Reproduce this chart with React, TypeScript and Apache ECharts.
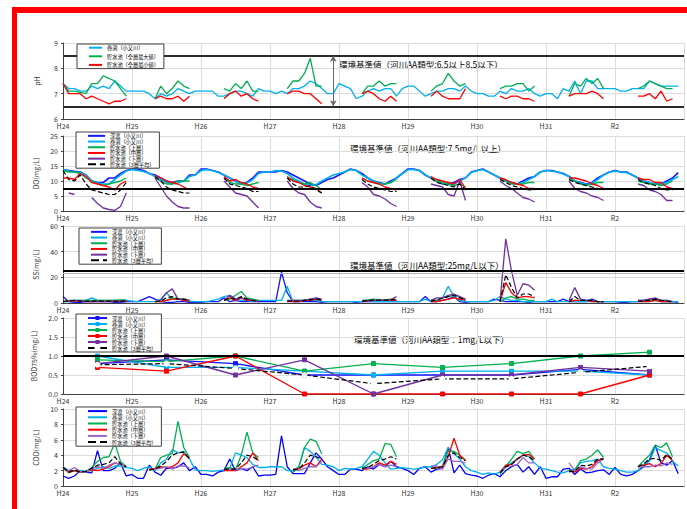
import React, { useEffect, useRef } from 'react';
import * as echarts from 'echarts';

const FONT = '"Noto Sans CJK JP", "Noto Sans", sans-serif';

const yearLabels = ['H24', 'H25', 'H26', 'H27', 'H28', 'H29', 'H30', 'H31', 'R2'];

const N_FUKA = '深渡（小又川）';
const N_MAKI = '巻渕（小又川）';
const N_MAX = '貯水池（全層最大値）';
const N_MIN = '貯水池（全層最小値）';
const N_UP = '貯水池（上層）';
const N_MID = '貯水池（中層）';
const N_LOW = '貯水池（下層）';
const N_AVG = '貯水池（3層平均）';

// ---------- pH ----------
const phMaki = [
  7.4, 7.2, 7.2, 7.1, 7.1, 7.3, 7.2, 7.3, 7.2, 7.5, 7.3, 7.1,
  7.1, 7.1, 7.1, 7.0, 6.8, 7.0, 6.9, 7.0, 7.2, 7.1, 7.0, 7.1,
  7.1, 7.1, 7.1, 6.9, 6.9, 7.0, 7.1, 7.1, 7.0, 6.9, 7.2, 7.1,
  7.1, 7.0, 7.1, 7.0, 7.2, 7.2, 7.3, 7.5, 7.4, 7.2, 7.0, 7.0,
  7.4, 7.3, 7.2, 6.8, 6.9, 7.1, 7.2, 7.1, 7.2, 7.2, 6.9, 7.2,
  7.3, 7.3, 7.1, 6.9, 7.0, 7.1, 7.1, 7.2, 7.2, 7.1, 7.3, 7.1,
  7.0, 7.0, 6.9, 6.9, 7.1, 7.0, 7.2, 7.1, 7.1, 7.2, 7.0, 6.9,
  7.0, 7.0, 6.8, 7.2, 7.1, 7.5, 7.0, 7.5, 7.5, 7.2, 7.2, 7.2,
  7.2, 7.1, 7.1, 7.2, 7.2, 7.2, 7.5, 7.4, 7.3, 7.3, 7.3, 7.3,
];
const phMax: [number, number[]][] = [
  [0, [7.4, 7.1, 7.1, 7.05, 7.0, 7.4, 7.4, 7.7, 7.6, 7.5, 7.2, 6.9]],
  [16, [6.8, 7.3, 7.0, 7.2, 7.5, 7.3, 7.2]],
  [28, [7.2, 7.1, 7.4, 7.2, 7.5, 7.1, 7.1]],
  [39, [7.2, 7.5, 7.5, 7.8, 8.4, 7.3, 7.3]],
  [52, [7.0, 7.3, 7.3, 7.5, 7.3, 7.4, 7.4]],
  [64, [7.1, 7.3, 7.4, 7.8, 7.5, 7.3, 7.4]],
  [76, [7.2, 7.3, 7.3, 7.4, 7.4, 7.1, 7.3]],
  [88, [6.9, 7.4, 7.3, 7.6, 7.4, 7.6, 7.2]],
  [100, [7.2, 7.3, 7.5, 7.4, 7.3, 7.2, 7.2]],
];
const phMin: [number, number[]][] = [
  [0, [7.4, 7.0, 7.0, 7.0, 6.8, 6.9, 6.8, 6.7, 6.6, 6.7, 6.7, 6.8]],
  [16, [6.8, 6.9, 6.8, 6.8, 6.9, 6.7, 6.9]],
  [28, [6.8, 7.0, 7.1, 6.9, 7.0, 6.8, 6.7]],
  [39, [7.0, 7.1, 7.1, 7.0, 7.0, 6.8, 6.6]],
  [52, [7.0, 7.1, 7.0, 6.8, 6.7, 6.9, 6.7]],
  [64, [6.9, 7.1, 6.9, 6.8, 6.8, 6.8, 7.2]],
  [76, [6.9, 6.8, 6.9, 6.9, 6.8, 6.8, 6.7]],
  [88, [6.9, 7.0, 7.0, 7.0, 7.1, 7.0, 6.8]],
  [100, [6.9, 6.9, 7.0, 6.8, 7.1, 6.7, 6.8]],
];
const phStd = [8.5, 6.5];
const phArrowMonth = 47;

// ---------- DO ----------
const doFuka = [
  13.8, 13.5, 13.2, 13.0, 12.0, 10.0, 9.5, 9.5, 11.0, 11.0, 12.5, 13.5,
  14.0, 14.0, 13.5, 12.5, 12.0, 11.0, 10.0, 9.5, 10.0, 10.0, 12.0, 12.0,
  14.0, 14.0, 13.5, 13.0, 12.0, 11.0, 10.0, 9.0, 9.5, 11.0, 13.0, 13.0,
  13.0, 13.0, 13.5, 13.0, 12.0, 11.0, 10.0, 9.0, 8.5, 9.5, 10.5, 11.0,
  12.0, 13.0, 14.0, 13.5, 12.5, 11.0, 10.0, 9.5, 9.0, 10.0, 11.0, 12.5,
  14.0, 14.0, 13.5, 12.0, 11.0, 10.0, 9.0, 9.0, 9.5, 10.5, 11.0, 13.0,
  13.5, 14.0, 13.0, 12.0, 11.0, 10.0, 9.5, 9.0, 10.0, 11.0, 11.5, 13.0,
  13.5, 13.5, 13.0, 12.5, 11.5, 10.0, 9.5, 9.0, 9.5, 11.0, 12.0, 13.0,
  13.5, 13.0, 13.0, 12.0, 11.0, 10.0, 9.5, 9.0, 9.0, 10.0, 11.0, 12.8,
];
const doMaki = [
  13.8, 13.3, 13.0, 12.8, 12.0, 10.0, 9.3, 9.0, 9.0, 10.5, 12.0, 13.3,
  13.8, 13.5, 13.2, 12.5, 11.5, 10.5, 9.5, 9.0, 9.3, 10.0, 11.5, 12.0,
  13.5, 13.8, 13.5, 12.8, 12.0, 11.0, 9.8, 9.0, 9.3, 10.5, 12.5, 13.0,
  13.0, 13.5, 13.3, 12.5, 11.0, 10.0, 9.0, 8.5, 8.8, 10.0, 11.0, 12.0,
  12.5, 13.0, 13.8, 13.5, 12.0, 11.0, 10.0, 9.3, 9.0, 9.5, 11.0, 12.5,
  13.8, 13.8, 13.5, 12.0, 11.0, 10.0, 9.0, 8.8, 9.0, 10.0, 11.0, 12.8,
  13.5, 13.8, 13.0, 12.0, 11.0, 10.0, 9.3, 9.0, 9.5, 10.5, 11.5, 13.0,
  13.5, 13.3, 13.0, 12.3, 11.5, 10.0, 9.3, 8.8, 9.3, 10.5, 12.0, 13.0,
  13.3, 13.0, 12.8, 12.0, 11.0, 10.0, 9.5, 9.0, 9.0, 9.5, 10.5, 11.5,
];
const doUp: [number, number[]][] = [
  [0, [13.5, 13.0, 13.0, 12.5, 11.0, 10.0, 9.0, 8.5, 9.0, 9.5, 10.0, 11.0]],
  [16, [11.0, 10.0, 9.0, 9.0, 10.0, 10.0, 10.0]],
  [28, [11.0, 9.5, 9.0, 9.0, 8.5, 9.0, 9.5]],
  [39, [11.0, 10.5, 9.5, 9.0, 9.5, 8.5, 7.0]],
  [52, [11.0, 10.0, 9.5, 9.0, 9.0, 9.5, 10.5]],
  [64, [11.0, 10.0, 9.5, 9.0, 8.5, 9.0, 8.0]],
  [76, [11.0, 10.0, 9.0, 9.0, 9.0, 9.5, 9.5]],
  [88, [10.5, 10.0, 9.0, 8.5, 9.0, 9.5, 9.5]],
  [100, [10.0, 9.5, 9.0, 9.0, 8.5, 9.0, 10.0]],
];
const doMid: [number, number[]][] = [
  [0, [11.0, 11.0, 10.5, 12.5, 11.5, 9.5, 9.0, 8.5, 8.0, 7.0, 9.0, 10.0]],
  [16, [12.0, 11.0, 10.0, 9.5, 9.0, 8.0, 7.0]],
  [28, [11.5, 10.0, 10.5, 9.5, 9.0, 8.0, 7.5]],
  [39, [11.5, 10.0, 9.5, 8.5, 8.0, 7.5, 6.0]],
  [52, [11.0, 10.0, 9.5, 9.0, 8.0, 7.5, 7.0]],
  [64, [11.5, 10.5, 10.0, 9.5, 9.0, 10.5, 7.5]],
  [76, [11.0, 10.5, 9.5, 9.0, 8.5, 7.5, 7.5]],
  [88, [11.0, 11.0, 10.5, 10.0, 9.0, 8.5, 7.5]],
  [100, [11.0, 10.5, 10.5, 9.5, 9.5, 8.0, 7.5]],
];
const doLow: [number, number[]][] = [
  [1, [6.0, 5.5]],
  [5, [4.5, 2.5, 1.0, 0.5, 0.2, 1.5, 6.0]],
  [16, [11.0, 8.0, 5.0, 3.0, 1.5, 1.0, 1.0]],
  [28, [10.0, 8.0, 6.0, 5.5, 5.0, 3.0, 1.0]],
  [39, [10.0, 7.5, 6.0, 5.5, 3.0, 1.5, 1.0]],
  [52, [9.5, 8.0, 5.5, 5.0, 4.0, 2.5, 1.5]],
  [64, [9.0, 8.5, 8.0, 5.5, 5.0, 10.0, 3.5]],
  [76, [10.0, 8.5, 7.5, 6.0, 4.5, 4.0, 3.0]],
  [88, [10.0, 7.5, 6.5, 6.0, 5.0, 4.5, 3.5]],
  [100, [9.0, 8.5, 7.0, 6.5, 5.5, 3.5, 3.5]],
];
const doAvg: [number, number[]][] = [
  [0, [13.5, 10.5, 10.0, 12.0, 9.0, 7.0, 6.5, 6.0, 5.5, 5.5, 7.0, 9.5]],
  [16, [11.5, 10.0, 8.0, 7.0, 6.5, 6.0, 6.0]],
  [28, [11.0, 9.0, 8.5, 8.0, 7.5, 6.5, 6.5]],
  [39, [11.0, 9.0, 8.0, 8.0, 8.5, 7.0, 6.0]],
  [52, [10.5, 9.0, 8.0, 7.5, 7.0, 6.5, 6.5]],
  [64, [11.0, 9.5, 9.0, 8.5, 8.0, 9.0, 7.0]],
  [76, [10.5, 9.5, 8.5, 8.0, 7.5, 7.0, 7.0]],
  [88, [10.5, 9.5, 9.0, 8.5, 8.0, 7.5, 7.0]],
  [100, [10.5, 9.5, 9.0, 8.5, 7.5, 7.0, 7.0]],
];
const doStd = [7.5];

// ---------- SS ----------
const ssFuka = [
  5, 1, 0.5, 0.5, 1, 1, 1, 1, 1, 0.5, 0.5, 1,
  1, 1, 3, 5, 3, 1, 0.5, 0.5, 1, 1, 0.5, 0.5,
  0.5, 1, 1, 1, 4, 1, 2, 1, 1, 1, 1, 1,
  1, 1, 24, 8, 1, 1, 1, 1, 1, 0.5, 1, 1,
  1, 1, 1, 0.5, 1, 1, 1, 1, 1, 1, 1, 1,
  1, 1, 1, 5, 1, 1, 2, 3, 5, 1, 0.5, 1,
  1, 1, 1, 3, 2, 1, 1, 1, 1, 0.5, 1, 1,
  1, 1, 1, 3, 1, 1, 1, 1, 3, 1, 1, 1,
  1, 0.5, 0.5, 1, 1, 2, 3, 3, 1, 1, 1, 0.5,
];
const ssMaki = [
  1, 1, 2, 2, 2, 4, 2, 2, 2, 2, 2, 2,
  1.5, 1, 1, 1, 1, 3, 8, 3, 3, 2, 1.5, 1,
  1, 1, 2, 3, 5, 6, 3, 2, 2, 1, 2, 2,
  2, 2, 2, 13, 1, 1, 2, 2, 2, 1, 1, 1,
  1, 1, 1, 1, 1, 1, 1, 1, 1, 1, 1, 1,
  1, 1, 1, 3, 1, 2, 4, 13, 5, 2, 1, 1,
  1, 1, 1, 2, 5, 3, 2, 2, 1, 1, 1, 1,
  1, 3, 1, 1, 1, 1, 1, 1, 1, 1, 1, 1,
  1, 1, 1, 1, 1, 1, 1, 2, 1, 1, 1, 1,
];
const ssUp: [number, number[]][] = [
  [0, [1, 2, 2, 2, 2, 2, 2, 2, 2, 2, 2.5, 2.5]],
  [16, [1, 1, 2, 4, 3, 3, 2]],
  [28, [2, 3, 6, 9, 4, 3, 2]],
  [39, [1, 2, 2, 2, 3, 3, 2]],
  [52, [2, 2.5, 3, 2.5, 2.5, 3, 2]],
  [64, [2, 2, 4, 5, 6, 5, 2]],
  [76, [1, 4, 5, 3, 3, 2, 2]],
  [88, [1, 2, 2, 2, 2, 1, 1]],
  [100, [2, 2, 2, 3, 2, 2, 1]],
];
const ssMid: [number, number[]][] = [
  [0, [1, 1.5, 1.5, 1.5, 1, 1, 1, 1, 1.5, 1.5, 1.5, 1.5]],
  [16, [1, 1, 2, 3, 3, 2, 1]],
  [28, [2, 4, 2, 4, 2, 2, 1]],
  [39, [1, 1, 1, 2, 2, 3, 2]],
  [52, [1, 1.5, 2, 2, 2, 2, 2]],
  [64, [1, 1, 2, 3, 4, 3, 2]],
  [76, [1, 16, 8, 4, 5, 5, 4]],
  [88, [1, 2, 2, 2, 1, 1, 1]],
  [100, [1, 1, 1, 2, 1, 1, 1]],
];
const ssLow: [number, number[]][] = [
  [0, [1, 1.5, 2, 1.5, 1, 1, 1.5, 1, 1, 1, 1, 1]],
  [16, [1, 2, 8, 11, 3, 3, 2]],
  [28, [2, 6, 3, 4, 3, 2, 1]],
  [39, [2, 2, 2, 2, 3, 4, 3]],
  [52, [1, 2, 2, 2, 2, 2.5, 5]],
  [64, [2, 4, 4, 6, 7, 5, 3]],
  [76, [1, 50, 25, 6, 15, 14, 10]],
  [88, [2, 12, 3, 2, 2, 1, 1]],
  [100, [2, 2, 3, 4, 2, 2, 1]],
];
const ssAvg: [number, number[]][] = [
  [0, [1, 1.5, 2, 1.5, 1.5, 1.5, 1.5, 1.5, 1.5, 1.5, 1.5, 1.5]],
  [16, [1, 1.5, 4, 5, 3, 3, 2]],
  [28, [2, 4, 3, 5, 3, 2, 1]],
  [39, [1.5, 1.5, 1.5, 2, 2.5, 3, 2.5]],
  [52, [1.5, 2, 2.3, 2.2, 2.2, 2.5, 3]],
  [64, [1.5, 2.5, 3.5, 5, 6, 4, 2.5]],
  [76, [1, 22, 12, 4, 7, 7, 5]],
  [88, [1, 5, 2, 2, 2, 1, 1]],
  [100, [1.5, 1.5, 2, 3, 2, 1.5, 1]],
];
const ssStd = [25];
const ssGuide = [23.5];

// ---------- BOD75% (annual, plotted mid-year) ----------
const bodFuka = [0.8, 0.9, 0.8, 0.5, 0.5, 0.5, 0.5, 0.65, 0.5];
const bodMaki = [1.0, 0.7, 0.7, 0.6, 0.5, 0.6, 0.6, 0.6, 0.5];
const bodUp = [0.9, 0.85, 1.0, 0.6, 0.8, 0.7, 0.8, 1.0, 1.1];
const bodMid = [0.7, 0.6, 1.0, 0.0, 0.0, 0.0, 0.0, 0.0, 0.5];
const bodLow = [0.8, 1.0, 0.5, 0.9, 0.0, 0.5, 0.5, 0.7, 0.6];
const bodAvg = [0.77, 0.8, 0.67, 0.5, 0.27, 0.4, 0.4, 0.57, 0.73];
const bodStd = [1.0];

// ---------- COD ----------
const codFuka = [
  1.3, 1.0, 1.3, 2.0, 1.8, 1.7, 4.6, 2.0, 2.0, 2.3, 3.0, 1.3,
  1.5, 1.0, 1.0, 2.7, 1.8, 1.4, 2.3, 2.3, 2.5, 3.0, 2.0, 2.5,
  1.5, 1.5, 1.3, 1.8, 2.0, 3.5, 2.0, 2.3, 2.0, 2.5, 1.3, 1.4,
  1.4, 1.5, 6.5, 2.5, 1.6, 1.6, 1.6, 3.0, 4.3, 3.5, 2.5, 2.0,
  1.5, 1.5, 2.2, 2.2, 2.0, 2.5, 2.2, 2.8, 2.5, 3.2, 2.5, 2.3,
  2.0, 1.5, 2.3, 2.5, 1.8, 2.2, 2.3, 5.0, 1.7, 2.7, 1.6, 1.4,
  1.3, 1.0, 1.4, 1.6, 1.2, 2.0, 2.5, 2.8, 1.8, 2.5, 1.5, 2.5,
  1.0, 1.2, 1.2, 2.2, 2.3, 1.5, 2.2, 1.7, 1.8, 2.0, 2.1, 1.5,
  2.4, 1.5, 1.3, 1.5, 2.0, 2.5, 3.4, 5.3, 3.0, 2.7, 3.3, 1.6,
];
const codMaki = [
  2.5, 2.0, 2.0, 2.0, 1.9, 2.0, 2.3, 2.5, 2.3, 2.6, 2.6, 2.4,
  2.3, 2.0, 2.3, 2.5, 2.0, 3.0, 3.5, 4.7, 4.3, 4.5, 3.5, 2.1,
  2.0, 2.0, 1.9, 2.0, 2.1, 2.3, 4.3, 4.0, 3.7, 2.8, 2.4, 2.4,
  2.5, 2.5, 2.5, 2.0, 2.0, 2.5, 5.0, 4.5, 3.8, 2.8, 2.7, 2.5,
  2.0, 2.3, 2.2, 2.3, 2.5, 3.5, 4.5, 4.0, 3.0, 2.2, 2.3, 2.4,
  2.3, 2.2, 2.3, 2.5, 2.5, 2.8, 3.4, 5.0, 4.2, 3.5, 2.5, 2.0,
  1.8, 1.5, 1.7, 1.5, 1.8, 2.5, 3.0, 3.5, 4.0, 3.8, 3.0, 2.3,
  2.2, 2.0, 1.8, 1.7, 2.0, 2.2, 3.0, 3.2, 3.3, 3.5, 2.5, 2.3,
  2.2, 2.0, 1.8, 1.8, 2.0, 2.8, 3.2, 5.0, 4.6, 4.3, 3.2, 2.6,
];
const codUp: [number, number[]][] = [
  [0, [2.5, 1.7, 2.0, 1.8, 1.9, 2.4, 3.2, 3.7, 3.8, 5.6, 3.2, 2.5]],
  [15, [2.1, 2.2, 3.7, 4.0, 4.2, 8.4, 5.0, 3.7]],
  [28, [2.3, 2.4, 2.1, 4.0, 7.0, 4.3, 3.7]],
  [40, [1.8, 2.4, 5.0, 6.1, 5.8, 4.2]],
  [52, [2.3, 2.8, 3.3, 3.5, 5.5, 5.4, 3.8]],
  [64, [2.3, 2.3, 2.6, 4.6, 4.5, 4.0, 3.3]],
  [76, [1.5, 2.5, 3.5, 4.5, 4.2, 4.5, 3.5]],
  [88, [1.8, 2.0, 3.3, 3.5, 4.0, 4.7, 3.7]],
  [100, [2.5, 3.3, 4.0, 5.3, 5.0, 5.6, 3.8]],
];
const codMid: [number, number[]][] = [
  [0, [2.4, 1.8, 2.0, 1.8, 1.9, 2.1, 2.0, 2.2, 2.5, 3.0, 2.8, 2.5]],
  [15, [2.2, 2.3, 2.5, 2.4, 2.5, 3.0, 4.2, 3.6]],
  [28, [2.0, 2.0, 2.0, 2.5, 3.0, 4.3, 3.3]],
  [40, [2.2, 2.2, 2.7, 3.0, 2.5, 3.5]],
  [52, [2.2, 2.2, 2.5, 3.0, 2.7, 3.2, 2.8]],
  [64, [2.3, 2.4, 2.5, 3.8, 6.2, 4.0, 3.3]],
  [76, [1.8, 2.7, 2.8, 3.5, 4.0, 4.1, 3.5]],
  [88, [2.0, 1.8, 2.3, 2.2, 2.5, 3.3, 3.6]],
  [100, [2.5, 2.7, 2.9, 2.5, 2.9, 4.0, 3.3]],
];
const codLow: [number, number[]][] = [
  [0, [2.3, 2.0, 2.4, 1.9, 1.8, 2.3, 2.5, 2.3, 2.7, 3.0, 2.8, 2.5]],
  [15, [2.1, 2.2, 2.3, 2.5, 2.2, 2.6, 2.6, 2.4]],
  [28, [2.2, 2.2, 2.1, 2.3, 2.2, 2.5, 2.7]],
  [40, [2.2, 2.0, 2.3, 2.5, 2.5, 3.2]],
  [52, [2.2, 2.3, 2.5, 2.8, 2.5, 2.7, 2.5]],
  [64, [2.6, 2.6, 2.2, 3.5, 3.2, 3.2, 3.0]],
  [76, [1.8, 2.5, 2.6, 2.8, 3.7, 3.0, 3.0]],
  [88, [3.0, 2.0, 2.5, 2.3, 2.2, 3.0, 3.5]],
  [100, [2.5, 2.5, 2.5, 2.7, 2.6, 3.0, 2.8]],
];
const codAvg: [number, number[]][] = [
  [0, [2.4, 1.8, 2.1, 1.8, 1.9, 2.3, 2.7, 2.8, 3.0, 3.8, 2.9, 2.5]],
  [15, [2.1, 2.2, 2.6, 3.2, 4.0, 4.3, 4.4, 3.5]],
  [28, [2.2, 2.2, 2.2, 3.0, 4.0, 3.8, 3.3]],
  [40, [2.1, 2.2, 3.0, 4.0, 3.8, 3.5]],
  [52, [2.3, 2.4, 2.8, 3.3, 3.5, 3.8, 3.5]],
  [64, [2.3, 2.4, 2.5, 4.0, 4.3, 3.7, 3.3]],
  [76, [1.7, 2.5, 2.8, 3.5, 4.0, 3.8, 3.3]],
  [88, [1.9, 1.9, 2.7, 2.6, 2.8, 3.5, 3.5]],
  [100, [2.5, 2.9, 3.5, 3.6, 3.3, 4.1, 3.5]],
];

// ---------- helpers ----------
const C_FUKA = '#1414ff';
const C_MAKI = '#00b0f0';
const C_UP = '#00b050';
const C_MID = '#ff0000';
const C_LOW = '#7030a0';
const C_AVG = '#000000';

const monthly = (arr: number[]) => arr.map((v, i) => [i, v]);
const segs = (list: [number, number[]][]) => {
  const out: any[] = [];
  list.forEach(([s, vals]) => {
    vals.forEach((v, i) => out.push([s + i, v]));
    out.push([s + vals.length, '-']);
  });
  return out;
};
const annual = (arr: number[]) => arr.map((v, i) => [i * 12 + 6, v]);

function line(key: string, name: string, color: string, gi: number, data: any[], extra: any = {}) {
  return {
    type: 'line',
    name: key + '|' + name,
    xAxisIndex: gi,
    yAxisIndex: gi,
    data,
    symbol: 'none',
    showSymbol: false,
    connectNulls: false,
    lineStyle: { color, width: extra.width ?? 1.3, type: extra.dash ? 'dashed' : 'solid' },
    itemStyle: { color },
    z: extra.z ?? 2,
    ...(extra.more || {}),
  };
}

function stdLine(values: number[], color = '#000', width = 2) {
  return {
    silent: true,
    symbol: 'none',
    label: { show: false },
    lineStyle: { color, width, type: 'solid' },
    data: values.map((v) => ({ yAxis: v })),
  };
}

function legend(
  key: string,
  names: string[],
  left: number,
  top: number,
  itemWidth: number,
  lh: number,
  gap: number,
  showSym = false,
) {
  return {
    orient: 'vertical',
    left,
    top,
    data: names.map((n) => key + '|' + n),
    formatter: (n: string) => n.split('|')[1],
    itemWidth,
    itemHeight: 5,
    itemGap: gap,
    padding: [1, 5, 1, 11],
    borderColor: '#404040',
    borderWidth: 1,
    borderRadius: 0,
    backgroundColor: '#ffffff',
    selectedMode: false,
    lineStyle: { width: 2 },
    itemStyle: showSym ? {} : { opacity: 0 },
    textStyle: { fontSize: 5.2, lineHeight: lh, fontFamily: FONT, color: '#000', padding: 0 },
    z: 10,
  };
}

const grids = [
  { top: 43, height: 76 },
  { top: 136, height: 75 },
  { top: 226, height: 77 },
  { top: 318, height: 76 },
  { top: 409, height: 77 },
];

const yDefs = [
  { name: 'pH', min: 6, max: 9, interval: 1, fmt: (v: number) => String(v) },
  { name: 'DO(mg/L)', min: 0, max: 25, interval: 5, fmt: (v: number) => String(v) },
  { name: 'SS(mg/L)', min: 0, max: 60, interval: 20, fmt: (v: number) => String(v) },
  { name: 'BOD75%(mg/L)', min: 0, max: 2, interval: 0.5, fmt: (v: number) => v.toFixed(1) },
  { name: 'COD(mg/L)', min: 0, max: 10, interval: 2, fmt: (v: number) => String(v) },
];

export default function App() {
  const ref = useRef<HTMLDivElement>(null);
  useEffect(() => {
    if (!ref.current) return;
    const chart = echarts.init(ref.current, undefined, { renderer: 'svg' });

    const bodSym = (color: string) => ({
      symbol: 'rect',
      showSymbol: true,
      symbolSize: 4,
      itemStyle: { color, borderColor: color },
    });

    const series: any[] = [
      // pH
      line('ph', N_MAKI, C_MAKI, 0, monthly(phMaki), { more: { markLine: stdLine(phStd, '#2a2a2a', 2.2) } }),
      line('ph', N_MAX, C_UP, 0, segs(phMax), {
        more: {
          markLine: {
            silent: true,
            symbol: ['arrow', 'arrow'],
            symbolSize: [5, 6],
            label: { show: false },
            lineStyle: { color: '#666', width: 1, type: 'solid' },
            data: [[{ coord: [phArrowMonth, phStd[0]] }, { coord: [phArrowMonth, phStd[1]] }]],
          },
        },
      }),
      line('ph', N_MIN, C_MID, 0, segs(phMin)),
      // DO
      line('do', N_FUKA, C_FUKA, 1, monthly(doFuka), { width: 1.6, more: { markLine: stdLine(doStd) } }),
      line('do', N_MAKI, C_MAKI, 1, monthly(doMaki), { width: 1.6 }),
      line('do', N_UP, C_UP, 1, segs(doUp)),
      line('do', N_MID, C_MID, 1, segs(doMid)),
      line('do', N_LOW, C_LOW, 1, segs(doLow)),
      line('do', N_AVG, C_AVG, 1, segs(doAvg), { dash: true, width: 1.2 }),
      // SS
      line('ss', N_FUKA, C_FUKA, 2, monthly(ssFuka), {
        more: {
          markLine: {
            silent: true,
            symbol: 'none',
            label: { show: false },
            data: [
              { yAxis: ssGuide[0], lineStyle: { color: '#b0b0b0', width: 1, type: 'solid' } },
              { yAxis: ssStd[0], lineStyle: { color: '#000', width: 2, type: 'solid' } },
            ],
          },
        },
      }),
      line('ss', N_MAKI, C_MAKI, 2, monthly(ssMaki)),
      line('ss', N_UP, C_UP, 2, segs(ssUp)),
      line('ss', N_MID, C_MID, 2, segs(ssMid)),
      line('ss', N_LOW, C_LOW, 2, segs(ssLow)),
      line('ss', N_AVG, C_AVG, 2, segs(ssAvg), { dash: true, width: 1.2 }),
      // BOD
      line('bod', N_FUKA, C_FUKA, 3, annual(bodFuka), { more: { ...bodSym(C_FUKA), markLine: stdLine(bodStd) } }),
      line('bod', N_MAKI, C_MAKI, 3, annual(bodMaki), { more: bodSym(C_MAKI) }),
      line('bod', N_UP, C_UP, 3, annual(bodUp), { more: bodSym(C_UP) }),
      line('bod', N_MID, C_MID, 3, annual(bodMid), { more: bodSym(C_MID) }),
      line('bod', N_LOW, C_LOW, 3, annual(bodLow), { more: bodSym(C_LOW) }),
      line('bod', N_AVG, C_AVG, 3, annual(bodAvg), {
        dash: true,
        width: 1.2,
        more: { symbol: 'emptyCircle', showSymbol: true, symbolSize: 4, itemStyle: { color: '#fff', borderColor: '#000', borderWidth: 1 } },
      }),
      // COD
      line('cod', N_FUKA, '#0000ff', 4, monthly(codFuka)),
      line('cod', N_MAKI, C_MAKI, 4, monthly(codMaki)),
      line('cod', N_UP, C_UP, 4, segs(codUp)),
      line('cod', N_MID, C_MID, 4, segs(codMid)),
      line('cod', N_LOW, '#9966cc', 4, segs(codLow)),
      line('cod', N_AVG, C_AVG, 4, segs(codAvg), { dash: true, width: 1.2 }),
    ];

    const option: any = {
      animation: false,
      backgroundColor: '#ffffff',
      textStyle: { fontFamily: FONT },
      grid: grids.map((g) => ({ left: 63, width: 623, top: g.top, height: g.height, containLabel: false })),
      xAxis: grids.map((_, i) => ({
        type: 'value',
        gridIndex: i,
        min: 0,
        max: 108,
        interval: 12,
        axisLine: { show: true, onZero: false, lineStyle: { color: '#404040', width: 1 } },
        axisTick: { show: false },
        axisLabel: {
          fontSize: 7,
          color: '#333',
          margin: 3,
          fontFamily: FONT,
          formatter: (v: number) => yearLabels[Math.round(v / 12)] ?? '',
        },
        splitLine: { show: true, lineStyle: { color: '#dcdcdc', width: 1 } },
      })),
      yAxis: yDefs.map((d, i) => ({
        type: 'value',
        gridIndex: i,
        min: d.min,
        max: d.max,
        interval: d.interval,
        name: d.name,
        nameLocation: 'middle',
        nameGap: 23,
        nameTextStyle: { fontSize: 7, color: '#333', fontFamily: FONT },
        axisLine: { show: true, lineStyle: { color: '#404040', width: 1 } },
        axisTick: { show: true, length: 2, lineStyle: { color: '#404040' } },
        axisLabel: { fontSize: 7, color: '#333', margin: 5, fontFamily: FONT, formatter: d.fmt },
        splitLine: { show: true, lineStyle: { color: '#dcdcdc', width: 1 } },
      })),
      legend: [
        legend('ph', [N_MAKI, N_MAX, N_MIN], 77, 44, 13, 5.4, 3.2),
        legend('do', [N_FUKA, N_MAKI, N_UP, N_MID, N_LOW, N_AVG], 76, 132, 17, 5.7, 0),
        legend('ss', [N_FUKA, N_MAKI, N_UP, N_MID, N_LOW, N_AVG], 79, 228, 16, 5.7, 0),
        legend('bod', [N_FUKA, N_MAKI, N_UP, N_MID, N_LOW, N_AVG], 76, 314, 19, 6.0, 0, true),
        legend('cod', [N_FUKA, N_MAKI, N_UP, N_MID, N_LOW, N_AVG], 76, 407, 19, 6.2, 0),
      ],
      graphic: [
        { type: 'rect', shape: { x: 12, y: 7, width: 675, height: 6 }, style: { fill: '#ff0000' }, silent: true },
        { type: 'rect', shape: { x: 12, y: 7, width: 5, height: 502 }, style: { fill: '#ff0000' }, silent: true },
        {
          type: 'text', x: 339, y: 64, silent: true,
          style: { text: '環境基準値（河川AA類型:6.5以上8.5以下）', fontSize: 8.5, fontFamily: FONT, fill: '#000', verticalAlign: 'middle', align: 'left' },
        },
        {
          type: 'text', x: 350, y: 148, silent: true,
          style: { text: '環境基準値（河川AA類型:7.5mg/L以上）', fontSize: 8.5, fontFamily: FONT, fill: '#000', verticalAlign: 'middle', align: 'left' },
        },
        {
          type: 'text', x: 350, y: 265, silent: true,
          style: { text: '環境基準値（河川AA類型:25mg/L以下）', fontSize: 8.5, fontFamily: FONT, fill: '#000', verticalAlign: 'middle', align: 'left' },
        },
        {
          type: 'text', x: 354, y: 339, silent: true,
          style: { text: '環境基準値（河川AA類型：1mg/L以下）', fontSize: 8.5, fontFamily: FONT, fill: '#000', verticalAlign: 'middle', align: 'left' },
        },
      ],
      series,
    };

    chart.setOption(option);
    return () => chart.dispose();
  }, []);

  return (
    <div
      ref={ref}
      style={{ position: 'fixed', left: 0, top: 0, width: 687, height: 509, background: '#fff' }}
    />
  );
}
